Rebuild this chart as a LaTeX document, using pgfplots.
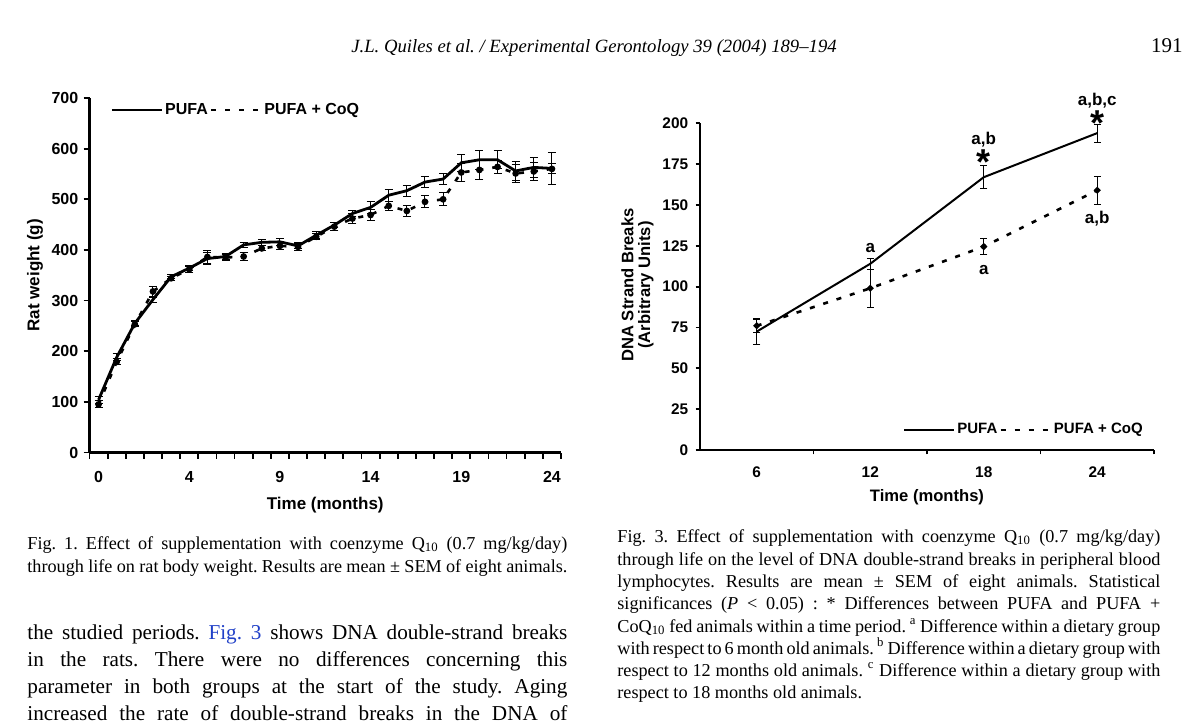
\documentclass[border=0pt]{standalone}
\usepackage{fontspec}
\setmainfont{Liberation Serif}
\newfontfamily\arial{Liberation Sans}
\usepackage{pgfplots}
\usepackage{pgfplotstable}
\pgfplotsset{compat=1.18}
\definecolor{linkblue}{RGB}{32,64,200}
\frenchspacing

\pgfplotstableread{
x p pe c ce
0.5 104 7 95 7
1.5 188 7 179 6
2.5 255 5 253 5
3.5 302 5 318 10
4.5 347 4 344 4
5.5 364 5 362 6
6.5 383 12 386 12
7.5 387 5 385 5
8.5 410 5 387 8
9.5 415 6 403 5
10.5 416 7 408 8
11.5 408 5 406 8
12.5 429 7 426 6
13.5 449 5 446 8
14.5 472 6 462 9
15.5 484 12 469 11
16.5 508 12 487 9
17.5 517 11 477 10
18.5 534 11 495 12
19.5 540 11 500 13
20.5 572 17 553 18
21.5 578 19 558 18
22.5 578 18 564 13
23.5 556 19 551 17
24.5 563 20 555 17
25.5 561 32 560 10
}\weightdata

\pgfplotstableread{
x p pe c ce
0.5 72.5 8 76 4
1.5 114 3.5 99 11.5
2.5 167 7 124.5 5
3.5 194 5.5 159 8.5
}\dnadata

\newcommand{\chartfont}[1]{\fontsize{#1}{#1}\arial\bfseries}

\pgfplotsset{
  chart/.style={
    scale only axis, axis lines=left, tick align=outside,
    clip=false,
    /pgf/number format/assume math mode=true,
    major tick length=0pt,
    tick style={black, line width=0.9pt},
    legend cell align=left,
    legend columns=2,
    legend image code/.code={\draw[##1] (0pt,0pt) -- (25pt,0pt);},
  }
}

\begin{document}
\begin{tikzpicture}
\path[use as bounding box, fill=white] (0pt,0pt) rectangle (600pt,-363.5pt);
% running head
\node[anchor=base, inner sep=0pt, font=\fontsize{9.35}{11}\selectfont\itshape] at (297pt,-26.5pt) {J.L. Quiles et al. / Experimental Gerontology 39 (2004) 189--194};
\node[anchor=base east, inner sep=0pt, font=\fontsize{10.5}{12}\selectfont] at (591.5pt,-26.5pt) {191};

% ---------------- Fig. 1 ----------------
\begin{axis}[chart,
  at={(44.75pt,-226.25pt)}, anchor=south west,
  width=235.75pt, height=177.25pt,
  xmin=0, xmax=26, ymin=0, ymax=700,
  xtick={0.5,5.5,10.5,15.5,20.5,25.5},
  xticklabels={0,4,9,14,19,24},
  minor xtick={0,1,...,26},
  ytick={0,100,...,700}, minor ytick={0,100,...,700},
  minor tick length=3pt,
  axis line style={-, line width=1.25pt},
  ticklabel style={font=\chartfont{8}},
  xticklabel style={yshift=-5.8pt},
  yticklabel style={xshift=-2.1pt},
  xlabel={Time (months)}, ylabel={Rat weight (g)},
  label style={font=\chartfont{8.5}},
  xlabel style={at={(axis description cs:0.5,0)}, anchor=center, yshift=-26.5pt},
  ylabel style={at={(axis description cs:-0.1155,0.5)}, anchor=center},
  legend style={draw=none, fill=none, inner sep=0pt, at={(0.0435,0.966)}, anchor=west, font=\chartfont{8}, nodes={inner sep=1pt}},
]
\addplot[black, line width=1.4pt,
  error bars/.cd, y dir=both, y explicit,
  error bar style={line width=0.5pt, solid},
  error mark options={rotate=90, black, line width=0.5pt, mark size=2pt, solid}]
  table[x=x, y=p, y error=pe] {\weightdata};
\addlegendentry{PUFA}
\addplot[black, line width=1.3pt, dash pattern=on 2.5pt off 4.5pt,
  mark=*, mark size=1pt, mark options={solid},
  error bars/.cd, y dir=both, y explicit,
  error bar style={line width=0.5pt, solid},
  error mark options={rotate=90, black, line width=0.5pt, mark size=2pt, solid}]
  table[x=x, y=c, y error=ce] {\weightdata};
\addlegendentry{PUFA + CoQ}
\end{axis}

% ---------------- Fig. 3 ----------------
\begin{axis}[chart,
  at={(350pt,-225pt)}, anchor=south west,
  width=227pt, height=163.35pt,
  xmin=0, xmax=4, ymin=0, ymax=200,
  xtick={0.5,1.5,2.5,3.5}, xticklabels={6,12,18,24},
  minor xtick={1,2,3,4},
  ytick={0,25,...,200}, minor ytick={0,25,...,200},
  minor tick length=2.2pt,
  axis line style={-, line width=1pt},
  ticklabel style={font=\chartfont{7.7}},
  xticklabel style={yshift=-5pt},
  yticklabel style={xshift=-2.4pt},
  xlabel={Time (months)},
  ylabel={DNA Strand Breaks\\(Arbitrary Units)},
  label style={font=\chartfont{8.3}},
  xlabel style={at={(axis description cs:0.5,0)}, anchor=center, yshift=-23.5pt},
  ylabel style={at={(axis description cs:-0.1377,0.505)}, anchor=center, align=center},
  legend style={draw=none, fill=none, inner sep=0pt, at={(0.447,0.0612)}, anchor=west, font=\chartfont{7.5}, nodes={inner sep=1pt}},
]
\addplot[black, line width=1pt,
  error bars/.cd, y dir=both, y explicit,
  error bar style={line width=0.5pt, solid},
  error mark options={rotate=90, black, line width=0.5pt, mark size=1.75pt, solid}]
  table[x=x, y=p, y error=pe] {\dnadata};
\addlegendentry{PUFA}
\addplot[black, line width=1.3pt, dash pattern=on 2.5pt off 4.5pt,
  mark=*, mark size=0.9pt, mark options={solid},
  error bars/.cd, y dir=both, y explicit,
  error bar style={line width=0.5pt, solid},
  error mark options={rotate=90, black, line width=0.5pt, mark size=1.75pt, solid}]
  table[x=x, y=c, y error=ce] {\dnadata};
\addlegendentry{PUFA + CoQ}
\node[font=\chartfont{8.5}] at (axis cs:1.5,123.7) {a};
\node[font=\chartfont{8.5}, anchor=base, inner sep=0pt] at (axis cs:2.5,187.2) {a,b};
\node[font=\chartfont{18}, anchor=north, inner sep=0pt] at (axis cs:2.5,184.0) {*};
\node[font=\chartfont{8.5}, anchor=base, inner sep=0pt] at (axis cs:3.5,211.2) {a,b,c};
\node[font=\chartfont{18}, anchor=north, inner sep=0pt] at (axis cs:3.5,208.0) {*};
\node[font=\chartfont{8.5}] at (axis cs:2.5,110.2) {a};
\node[font=\chartfont{8.5}] at (axis cs:3.5,141.4) {a,b};
\end{axis}

% ---------------- captions and body text ----------------
\begin{scope}[every node/.style={anchor=base west, inner sep=0pt}]
\node[font=\fontsize{9.1}{11}\selectfont] at (13.5pt,-274.5pt) {\makebox[270pt][s]{Fig. 1. Effect of supplementation with coenzyme Q\textsubscript{10} (0.7 mg/kg/day)}};
\node[font=\fontsize{9.1}{11}\selectfont] at (13.5pt,-286pt) {\makebox[270pt][s]{through life on rat body weight. Results are mean ± SEM of eight animals.}};

\node[font=\fontsize{10.6}{13}\selectfont] at (13.5pt,-319.75pt) {\makebox[270pt][s]{the studied periods. \textcolor{linkblue}{Fig. 3} shows DNA double-strand breaks}};
\node[font=\fontsize{10.6}{13}\selectfont] at (13.5pt,-333.25pt) {\makebox[270pt][s]{in the rats. There were no differences concerning this}};
\node[font=\fontsize{10.6}{13}\selectfont] at (13.5pt,-346.75pt) {\makebox[270pt][s]{parameter in both groups at the start of the study. Aging}};
\node[font=\fontsize{10.6}{13}\selectfont] at (13.5pt,-360.25pt) {\makebox[270pt][s]{increased the rate of double-strand breaks in the DNA of}};

\node[font=\fontsize{9.1}{11}\selectfont] at (308.5pt,-271.3pt) {\makebox[271.5pt][s]{Fig. 3. Effect of supplementation with coenzyme Q\textsubscript{10} (0.7 mg/kg/day)}};
\node[font=\fontsize{9.1}{11}\selectfont] at (308.5pt,-282.8pt) {\makebox[271.5pt][s]{through life on the level of DNA double-strand breaks in peripheral blood}};
\node[font=\fontsize{9.1}{11}\selectfont] at (308.5pt,-293.8pt) {\makebox[271.5pt][s]{lymphocytes. Results are mean ± SEM of eight animals. Statistical}};
\node[font=\fontsize{9.1}{11}\selectfont] at (308.5pt,-304.8pt) {\makebox[271.5pt][s]{significances (\textit{P} < 0.05) : * Differences between PUFA and PUFA +}};
\node[font=\fontsize{9.1}{11}\selectfont] at (308.5pt,-316.3pt) {\makebox[271.5pt][s]{CoQ\textsubscript{10} fed animals within a time period. \textsuperscript{a} Difference within a dietary group}};
\node[font=\fontsize{9.1}{11}\selectfont] at (308.5pt,-327.3pt) {\makebox[271.5pt][s]{with respect to 6 month old animals. \textsuperscript{b} Difference within a dietary group with}};
\node[font=\fontsize{9.1}{11}\selectfont] at (308.5pt,-338.3pt) {\makebox[271.5pt][s]{respect to 12 months old animals. \textsuperscript{c} Difference within a dietary group with}};
\node[font=\fontsize{9.1}{11}\selectfont] at (308.5pt,-349.3pt) {respect to 18 months old animals.};
\end{scope}
\end{tikzpicture}
\end{document}
